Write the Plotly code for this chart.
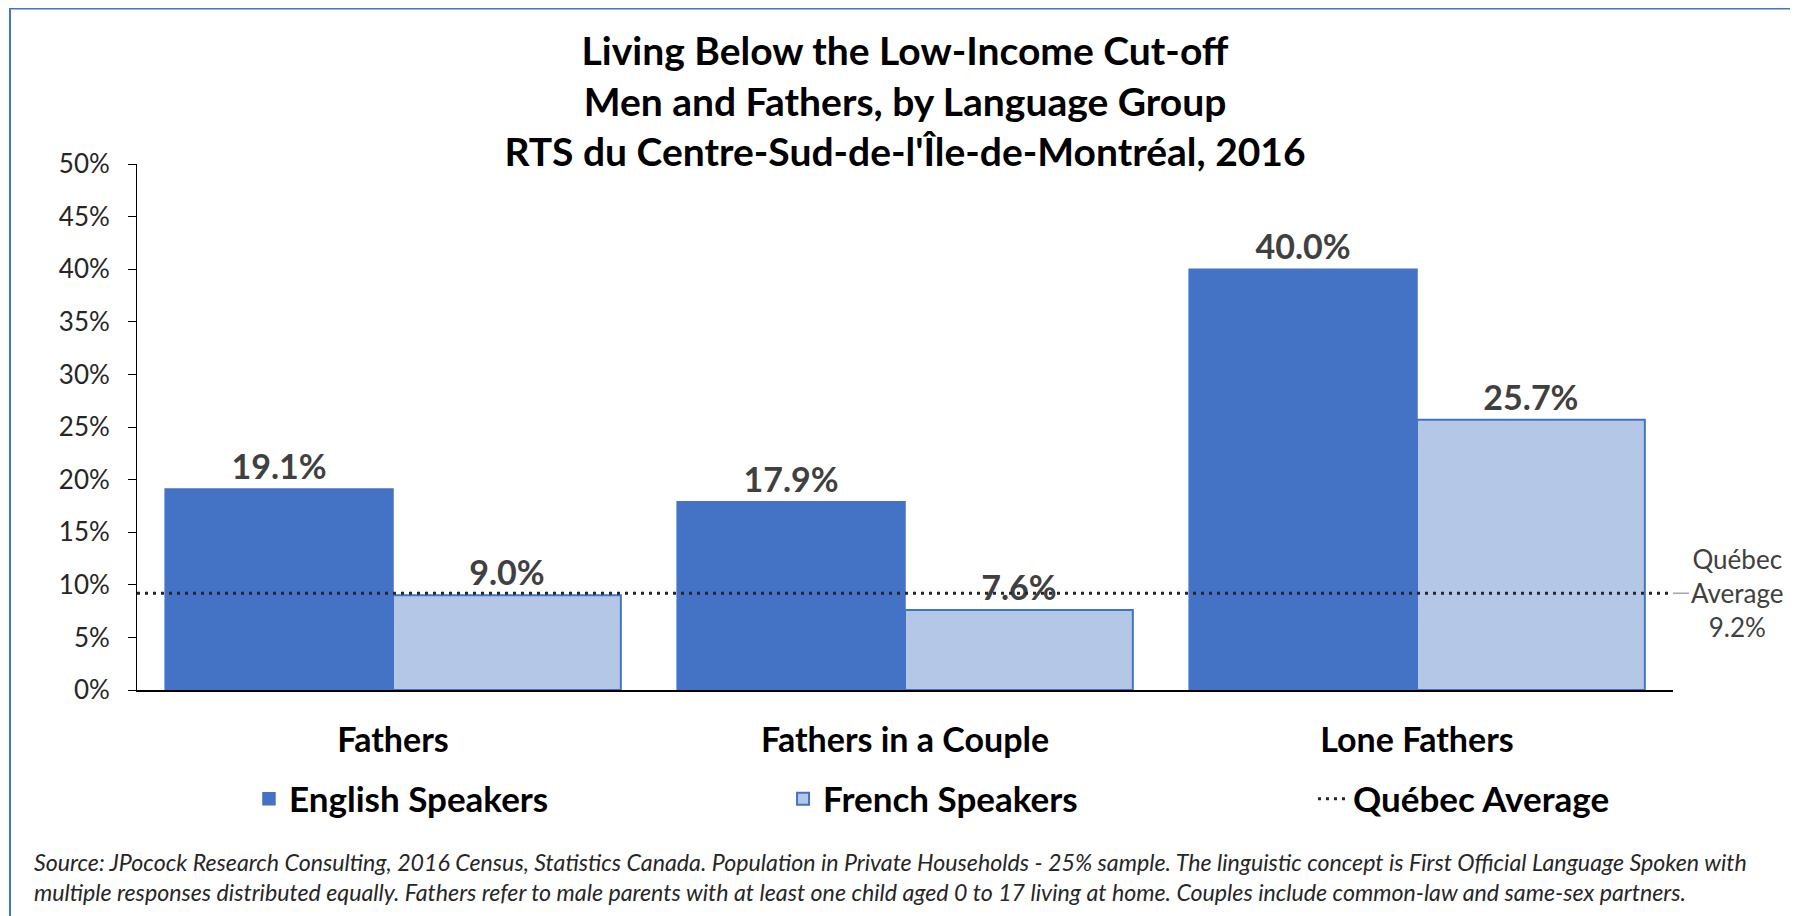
import plotly.graph_objects as go

# Data
categories = ['Fathers', 'Fathers in a Couple', 'Lone Fathers']
english_speakers = [19.1, 17.9, 40.0]
french_speakers = [9.0, 7.6, 25.7]
quebec_average = 9.2
series_names = ['English Speakers', 'French Speakers', 'Québec Average']

title_lines = [
    'Living Below the Low-Income Cut-off',
    'Men and Fathers, by Language Group',
    "RTS du Centre-Sud-de-l'Île-de-Montréal, 2016",
]
source_lines = [
    'Source: JPocock Research Consulting, 2016 Census, Statistics Canada. Population in Private Households - 25% sample. '
    'The linguistic concept is First Official Language Spoken with',
    'multiple responses distributed equally. Fathers refer to male parents with at least one child aged 0 to 17 living at home. '
    'Couples include common-law and same-sex partners.',
]

FONT = 'Lato'
BLUE = '#4472C4'
LIGHT_BLUE = '#B4C7E7'
LABEL_FONT = dict(family=FONT, size=34, color='#404040', weight='bold')

fig = go.Figure()

fig.add_trace(go.Bar(
    x=categories,
    y=english_speakers,
    name=series_names[0],
    legend='legend',
    marker=dict(color=BLUE, line=dict(color=BLUE, width=1.5)),
    texttemplate='%{y:.1f}%',
    textposition='outside',
    textfont=LABEL_FONT,
    cliponaxis=False,
))

fig.add_trace(go.Bar(
    x=categories,
    y=french_speakers,
    name=series_names[1],
    legend='legend2',
    marker=dict(color=LIGHT_BLUE, line=dict(color=BLUE, width=2)),
    texttemplate='%{y:.1f}%',
    textposition='outside',
    textfont=LABEL_FONT,
    cliponaxis=False,
))

# Québec average reference line
fig.add_hline(
    y=quebec_average,
    line=dict(color='#262626', width=3, dash='3px,5px'),
    layer='above',
    showlegend=True,
    name=series_names[2],
    legend='legend3',
)

fig.add_annotation(
    x=1.0, xref='paper', y=quebec_average, yref='y',
    text='Québec<br>Average<br>%.1f%%' % quebec_average,
    showarrow=True, arrowhead=0, arrowwidth=1.5, arrowcolor='#A6A6A6',
    ax=64, ay=0, xanchor='center',
    font=dict(family=FONT, size=26, color='#404040'),
    align='center',
)

# source note
fig.add_annotation(
    x=-0.0684, xref='paper', y=-0.296, yref='paper',
    text='<br>'.join('<i>%s</i>' % s for s in source_lines),
    showarrow=False, xanchor='left', yanchor='top', align='left',
    font=dict(family=FONT, size=23.2, color='#262626'),
)

# outer frame
fig.add_shape(
    type='rect', xref='paper', yref='paper',
    x0=-0.0827, x1=1.080, y0=-0.45, y1=1.2955,
    line=dict(color=BLUE, width=2), fillcolor='rgba(0,0,0,0)',
)

legend_common = dict(
    orientation='h', xanchor='left', y=-0.2072, yanchor='middle',
    font=dict(family=FONT, size=35, color='black', weight='bold'),
    bgcolor='rgba(0,0,0,0)',
)

fig.update_layout(
    width=1798,
    height=916,
    margin=dict(l=129, r=133, t=156, b=234),
    paper_bgcolor='white',
    plot_bgcolor='white',
    barmode='group',
    bargap=0.11,
    bargroupgap=0,
    font=dict(family=FONT, color='#262626'),
    title=dict(
        text='<b>' + '<br>'.join(title_lines) + '</b>',
        x=0.5, xref='paper', xanchor='center',
        y=0.9378, yanchor='top',
        font=dict(family=FONT, size=39, color='black'),
    ),
    xaxis=dict(
        showline=True, linecolor='black', linewidth=2,
        ticks='', showgrid=False,
        tickfont=dict(family=FONT, size=34, color='black', weight='bold'),
        ticklabelstandoff=19,
    ),
    yaxis=dict(
        range=[0, 50], dtick=5, ticksuffix='%',
        showline=True, linecolor='black', linewidth=1,
        ticks='outside', ticklen=8, tickcolor='black',
        showgrid=False, zeroline=False,
        tickfont=dict(family=FONT, size=26, color='#262626'),
        ticklabelstandoff=13,
    ),
    showlegend=True,
    legend=dict(x=0.0729, **legend_common),
    legend2=dict(x=0.4206, **legend_common),
    legend3=dict(x=0.7656, **legend_common),
)

fig.write_html('out.html')
